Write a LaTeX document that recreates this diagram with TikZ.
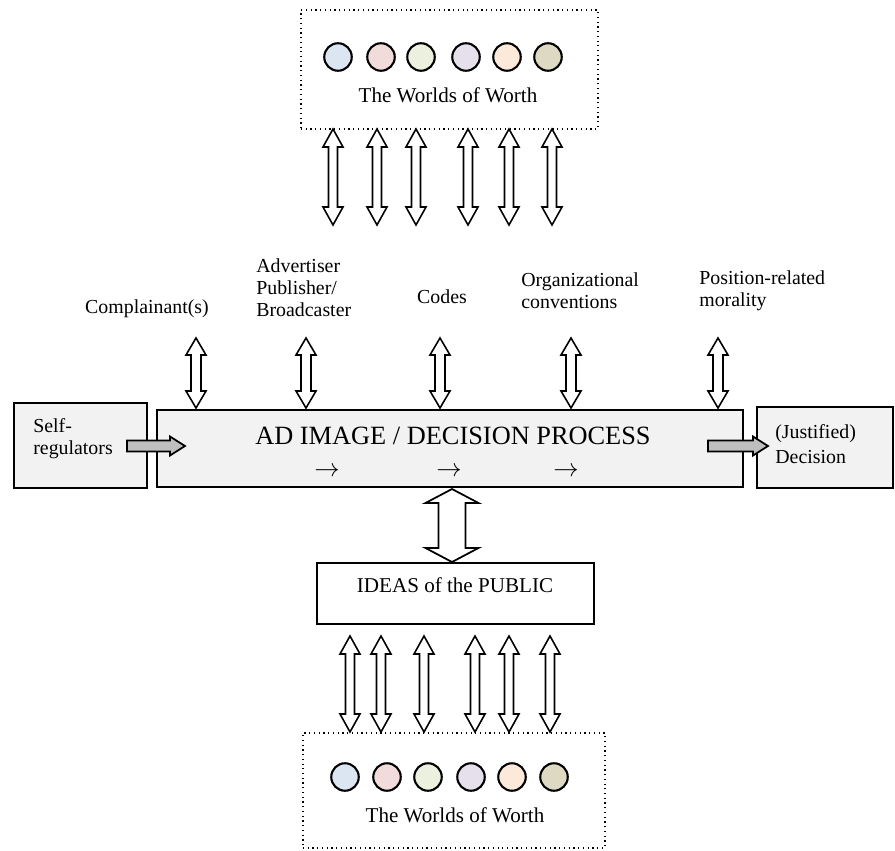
\documentclass[tikz,border=0pt]{standalone}
\usepackage{fontspec}
\setmainfont{Liberation Serif}
\usetikzlibrary{calc,fit,positioning}
\definecolor{boxgray}{HTML}{F2F2F2}
\definecolor{arrowgray}{HTML}{BFBFBF}
\definecolor{wblue}{HTML}{DCE6F2}
\definecolor{wpink}{HTML}{F2DCDB}
\definecolor{wgreen}{HTML}{EBF1DE}
\definecolor{wlilac}{HTML}{E5E0EC}
\definecolor{wpeach}{HTML}{FDE9D9}
\definecolor{wkhaki}{HTML}{DDD9C3}
\tikzset{
    panel/.style={
        draw,
        line width=1.1pt,
        fill=boxgray,
        inner sep=0pt
    },
    plainbox/.style={
        draw,
        line width=1.1pt,
        fill=white,
        inner sep=0pt
    },
    worthbox/.style={
        draw,
        dotted,
        line width=0.7pt,
        inner sep=0pt
    },
    world/.style={
        circle,
        draw,
        line width=1.2pt,
        minimum size=0.55cm,
        inner sep=0pt
    },
    lbl/.style={
        align=left,
        inner sep=0pt,
        font=\fontsize{11.3}{12.6}\selectfont
    },
    % vertical block arrow, two heads: shaft half width, head half width, head length
    fatdbl/.style n args={3}{
        to path={
            (\tikztostart) -- ++(#2,#3) -- ++(#1-#2,0)
            -- ($(\tikztotarget)+(#1,-#3)$) -- ++(#2-#1,0)
            -- (\tikztotarget) -- ++(-#2,-#3) -- ++(#2-#1,0)
            -- ($(\tikztostart)+(-#1,#3)$) -- ++(#1-#2,0) -- cycle
        }
    },
    % horizontal block arrow, one head
    fatright/.style n args={3}{
        to path={
            ($(\tikztostart)+(0,-#1)$) -- ($(\tikztotarget)+(-#3,-#1)$)
            -- ++(0,#1-#2) -- (\tikztotarget) -- ++(-#3,#2)
            -- ++(0,#1-#2) -- ($(\tikztostart)+(0,#1)$) -- cycle
        }
    },
    linkarrow/.style={draw, line width=0.9pt, fill=white, fatdbl={4.5}{10}{18}},
    feedarrow/.style={draw, line width=0.9pt, fill=white, fatdbl={5}{10}{17}},
    grayarrow/.style={draw, line width=1pt, fill=arrowgray, fatright={5.5}{9.5}{15}}
}

\begin{document}
\begin{tikzpicture}[x=0.02cm, y=-0.02cm]
    \useasboundingbox (0,0) rectangle (895,851);

    % Boxes
    \node[worthbox, fit={(301,10) (598,129)}] (wtop) {};
    \node[worthbox, fit={(303,733) (605,848)}] (wbot) {};
    \node[panel, fit={(157,410) (743,487)}] (proc) {};
    \node[panel, fit={(14,403) (147,488)}] (selfreg) {};
    \node[panel, fit={(757,407) (893,488)}] (decision) {};
    \node[plainbox, fit={(317,563) (594,624)}] (public) {};

    % Worlds of worth
    \foreach \x/\c [count=\i] in {338/wblue, 381/wpink, 421/wgreen, 466/wlilac, 507/wpeach, 548/wkhaki}
        \node[world, fill=\c] (wt\i) at (\x,57) {};
    \foreach \x/\c [count=\i] in {345/wblue, 387/wpink, 428/wgreen, 471/wlilac, 512/wpeach, 554/wkhaki}
        \node[world, fill=\c] (wb\i) at (\x,777) {};
    \node[inner sep=0pt, font=\fontsize{12}{14}\selectfont] (wtoptxt) at (448,95) {The Worlds of Worth};
    \node[inner sep=0pt, font=\fontsize{12}{14}\selectfont] (wbottxt) at (455,815) {The Worlds of Worth};

    % Texts
    \node[inner sep=0pt, font=\fontsize{15}{17}\selectfont] (title) at (453,436) {AD IMAGE / DECISION PROCESS};
    \foreach \x [count=\i] in {327,449,566}
        \node[inner sep=0pt, font=\fontsize{15}{17}\selectfont] (step\i) at (\x,472) {$\rightarrow$};
    \node[inner sep=0pt, font=\fontsize{12}{14}\selectfont] (publictxt) at (455,585) {IDEAS of the PUBLIC};
    \node[lbl, anchor=west] (selftxt) at (33,439) {Self-\\regulators};
    \node[lbl, anchor=west, font=\fontsize{11.3}{14}\selectfont] (dectxt) at (775,444) {(Justified)\\Decision};

    \node[lbl] (compl) at (147,309) {Complainant(s)};
    \node[lbl, anchor=west] (advert) at (256,288) {Advertiser\\Publisher/\\Broadcaster};
    \node[lbl] (codes) at (442,297) {Codes};
    \node[lbl, anchor=west] (orgconv) at (521,291) {Organizational\\conventions};
    \node[lbl, anchor=west] (posmoral) at (699,291) {Position-related\\morality};

    % Arrows
    \foreach \x [count=\i] in {333,377,416,468,509,552} {
        \coordinate (ta\i) at (\x,129);
        \coordinate (tb\i) at (\x,225);
        \draw[linkarrow] (ta\i) to (tb\i);
    }
    \foreach \x [count=\i] in {196,306,440,571,718} {
        \coordinate (fa\i) at (\x,338);
        \coordinate (fb\i) at (\x,408);
        \draw[feedarrow] (fa\i) to (fb\i);
    }
    \coordinate (pa) at (452,489);
    \coordinate (pb) at (452,562);
    \draw[draw, line width=1pt, fill=white, fatdbl={13.5}{26.5}{14}] (pa) to (pb);
    \foreach \x [count=\i] in {350,381,424,475,509,550} {
        \coordinate (ba\i) at (\x,636);
        \coordinate (bb\i) at (\x,732);
        \draw[linkarrow] (ba\i) to (bb\i);
    }
    \coordinate (sa) at (127,446);
    \coordinate (sb) at (185,446);
    \draw[grayarrow] (sa) to (sb);
    \coordinate (da) at (708,446);
    \coordinate (db) at (768,446);
    \draw[grayarrow] (da) to (db);
\end{tikzpicture}
\end{document}
